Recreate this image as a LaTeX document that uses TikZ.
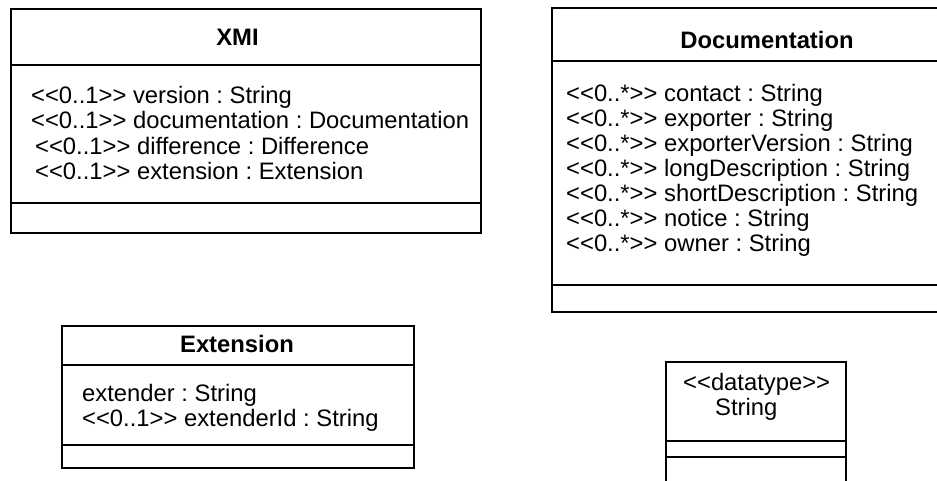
\documentclass[tikz,border=0pt]{standalone}
\usepackage{fontspec}
\newfontfamily\umlfont{Liberation Sans}
\frenchspacing
\begin{document}
\begin{tikzpicture}[x=1pt,y=-1pt,
  umlbox/.style={draw, line width=2pt, rectangle, inner sep=0pt, anchor=north west},
  sepline/.style={line width=2pt},
  attr/.style={anchor=base west, inner sep=0pt, font=\umlfont\frenchspacing\fontsize{23.8}{25}\selectfont},
  title/.style={anchor=base, inner sep=0pt, font=\umlfont\bfseries\fontsize{23.8}{25}\selectfont}]
\useasboundingbox (0,0) rectangle (937,480);
\clip (0,0) rectangle (937,480);

% XMI
\node[umlbox, minimum width=470pt, minimum height=224pt] (xmi) at (10,8) {};
\draw[sepline] (xmi.west |- 0,64.5) -- (xmi.east |- 0,64.5);
\draw[sepline] (xmi.west |- 0,203) -- (xmi.east |- 0,203);
\node[title] (xmiT) at (237.5,45) {XMI};
\node[attr] (xmiA1) at (31,103) {<<0..1>> version : String};
\node[attr] (xmiA2) at (31,128.5) {<<0..1>> documentation : Documentation};
\node[attr] (xmiA3) at (35,154) {<<0..1>> difference : Difference};
\node[attr] (xmiA4) at (35,179.5) {<<0..1>> extension : Extension};

% Documentation
\node[umlbox, minimum width=432pt, minimum height=304pt] (doc) at (551,7) {};
\draw[sepline] (doc.west |- 0,61) -- (doc.east |- 0,61);
\draw[sepline] (doc.west |- 0,285) -- (doc.east |- 0,285);
\node[title] (docT) at (767,48) {Documentation};
\node[attr] (docA1) at (566,101) {<<0..*>> contact : String};
\node[attr] (docA2) at (566,126) {<<0..*>> exporter : String};
\node[attr] (docA3) at (566,151) {<<0..*>> exporterVersion : String};
\node[attr] (docA4) at (566,176) {<<0..*>> longDescription : String};
\node[attr] (docA5) at (566,201) {<<0..*>> shortDescription : String};
\node[attr] (docA6) at (566,226) {<<0..*>> notice : String};
\node[attr] (docA7) at (566,251) {<<0..*>> owner : String};

% Extension
\node[umlbox, minimum width=352pt, minimum height=142pt] (ext) at (61,325) {};
\draw[sepline] (ext.west |- 0,365) -- (ext.east |- 0,365);
\draw[sepline] (ext.west |- 0,445) -- (ext.east |- 0,445);
\node[title] (extT) at (237,352) {Extension};
\node[attr] (extA1) at (82,401) {extender : String};
\node[attr] (extA2) at (82,426) {<<0..1>> extenderId : String};

% String datatype
\node[umlbox, minimum width=180pt, minimum height=140pt] (str) at (665,361) {};
\draw[sepline] (str.west |- 0,441) -- (str.east |- 0,441);
\draw[sepline] (str.west |- 0,457) -- (str.east |- 0,457);
\node[attr] (strS) at (683,390) {<<datatype>>};
\node[attr] (strN) at (715,415) {String};
\end{tikzpicture}
\end{document}
